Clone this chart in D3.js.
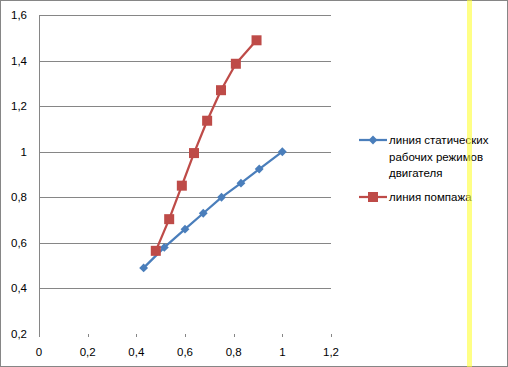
<!DOCTYPE html>
<html>
<head>
<meta charset="utf-8">
<script src="https://cdn.jsdelivr.net/npm/d3@7"></script>
<style>
  html, body { margin: 0; padding: 0; background: #fff; }
  svg { display: block; font-family: "Liberation Sans", Arial, sans-serif; }
</style>
</head>
<body>
<svg id="chart" width="508" height="367"></svg>
<script>
// series data
const staticX = [0.43, 0.515, 0.6, 0.675, 0.75, 0.83, 0.905, 1.0];
const staticY = [0.49, 0.58, 0.66, 0.73, 0.80, 0.862, 0.924, 1.0];
const surgeX = [0.48, 0.535, 0.587, 0.637, 0.691, 0.748, 0.809, 0.894];
const surgeY = [0.565, 0.704, 0.851, 0.994, 1.136, 1.27, 1.386, 1.489];

const xTicks = [0, 0.2, 0.4, 0.6, 0.8, 1, 1.2];
const yTicks = [0.2, 0.4, 0.6, 0.8, 1, 1.2, 1.4, 1.6];
const seriesNames = ['линия статических рабочих режимов двигателя', 'линия помпажа'];

const W = 508, H = 367;
const BLUE = '#4a7ebb', RED = '#be4b48', GRID = '#868686';
const fmt = v => String(v).replace('.', ',');

const svg = d3.select('#chart');

const x = d3.scaleLinear().domain([0, 1.2]).range([39, 331]);
const y = d3.scaleLinear().domain([0.2, 1.6]).range([334, 15]);

// outer border
svg.append('rect')
  .attr('x', 0.5).attr('y', 0.5).attr('width', W - 1).attr('height', H - 1)
  .attr('fill', '#fff').attr('stroke', GRID).attr('stroke-width', 1);

// horizontal gridlines (bottom one hidden, the axis line is off)
svg.append('g').selectAll('line')
  .data(yTicks.filter(v => v > 0.2))
  .enter().append('line')
  .attr('x1', x(0)).attr('x2', x(1.2))
  .attr('y1', d => Math.round(y(d)) + 0.5).attr('y2', d => Math.round(y(d)) + 0.5)
  .attr('stroke', GRID).attr('stroke-width', 1);

// y axis line
svg.append('line')
  .attr('x1', Math.round(x(0)) + 0.5).attr('x2', Math.round(x(0)) + 0.5)
  .attr('y1', y(1.6)).attr('y2', y(0.2) + 3)
  .attr('stroke', GRID).attr('stroke-width', 1);

// x tick marks
svg.append('g').selectAll('line')
  .data(xTicks.filter(v => v > 0))
  .enter().append('line')
  .attr('x1', d => Math.round(x(d)) + 0.5).attr('x2', d => Math.round(x(d)) + 0.5)
  .attr('y1', y(0.2)).attr('y2', y(0.2) + 3)
  .attr('stroke', GRID).attr('stroke-width', 1);

// tick labels
svg.append('g').selectAll('text')
  .data(yTicks)
  .enter().append('text')
  .attr('x', 27).attr('y', d => y(d) + 4)
  .attr('text-anchor', 'end')
  .attr('font-size', 11.5).attr('fill', '#000')
  .text(fmt);

svg.append('g').selectAll('text')
  .data(xTicks)
  .enter().append('text')
  .attr('x', d => x(d)).attr('y', 356)
  .attr('text-anchor', 'middle')
  .attr('font-size', 11.5).attr('fill', '#000')
  .text(fmt);

const line = d3.line().x(d => x(d[0])).y(d => y(d[1]));
const staticPts = staticX.map((v, i) => [v, staticY[i]]);
const surgePts = surgeX.map((v, i) => [v, surgeY[i]]);

const diamond = d3.symbol().type(d3.symbolDiamond2).size(50);

function drawSeries(pts, color, marker) {
  const g = svg.append('g');
  g.append('path')
    .attr('d', line(pts))
    .attr('fill', 'none').attr('stroke', color).attr('stroke-width', 2.25)
    .attr('stroke-linejoin', 'round');
  if (marker === 'diamond') {
    g.selectAll('path.pt').data(pts).enter().append('path')
      .attr('class', 'pt')
      .attr('d', diamond)
      .attr('transform', d => `translate(${x(d[0])},${y(d[1])})`)
      .attr('fill', color);
  } else {
    g.selectAll('rect').data(pts).enter().append('rect')
      .attr('x', d => x(d[0]) - 5).attr('y', d => y(d[1]) - 5)
      .attr('width', 10).attr('height', 10)
      .attr('fill', color);
  }
}

drawSeries(staticPts, BLUE, 'diamond');
drawSeries(surgePts, RED, 'square');

// legend
const leg = svg.append('g');
leg.append('line').attr('x1', 359).attr('x2', 387).attr('y1', 140).attr('y2', 140)
  .attr('stroke', BLUE).attr('stroke-width', 2.25);
leg.append('path').attr('d', diamond).attr('transform', 'translate(373,140)').attr('fill', BLUE);
leg.append('line').attr('x1', 359).attr('x2', 387).attr('y1', 197).attr('y2', 197)
  .attr('stroke', RED).attr('stroke-width', 2.25);
leg.append('rect').attr('x', 368).attr('y', 192).attr('width', 10).attr('height', 10).attr('fill', RED);

const t1 = leg.append('text').attr('x', 389).attr('font-size', 11.5).attr('fill', '#000');
['линия статических', 'рабочих режимов', 'двигателя'].forEach((s, i) => {
  t1.append('tspan').attr('x', 389).attr('y', 144 + i * 16.5).text(s);
});
leg.append('text').attr('x', 389).attr('y', 201).attr('font-size', 11.5).attr('fill', '#000')
  .text(seriesNames[1]);

// yellow vertical marker line
svg.append('rect')
  .attr('x', 467).attr('y', 0).attr('width', 5).attr('height', H)
  .attr('fill', '#ffff33').attr('opacity', 0.6);
</script>
</body>
</html>
